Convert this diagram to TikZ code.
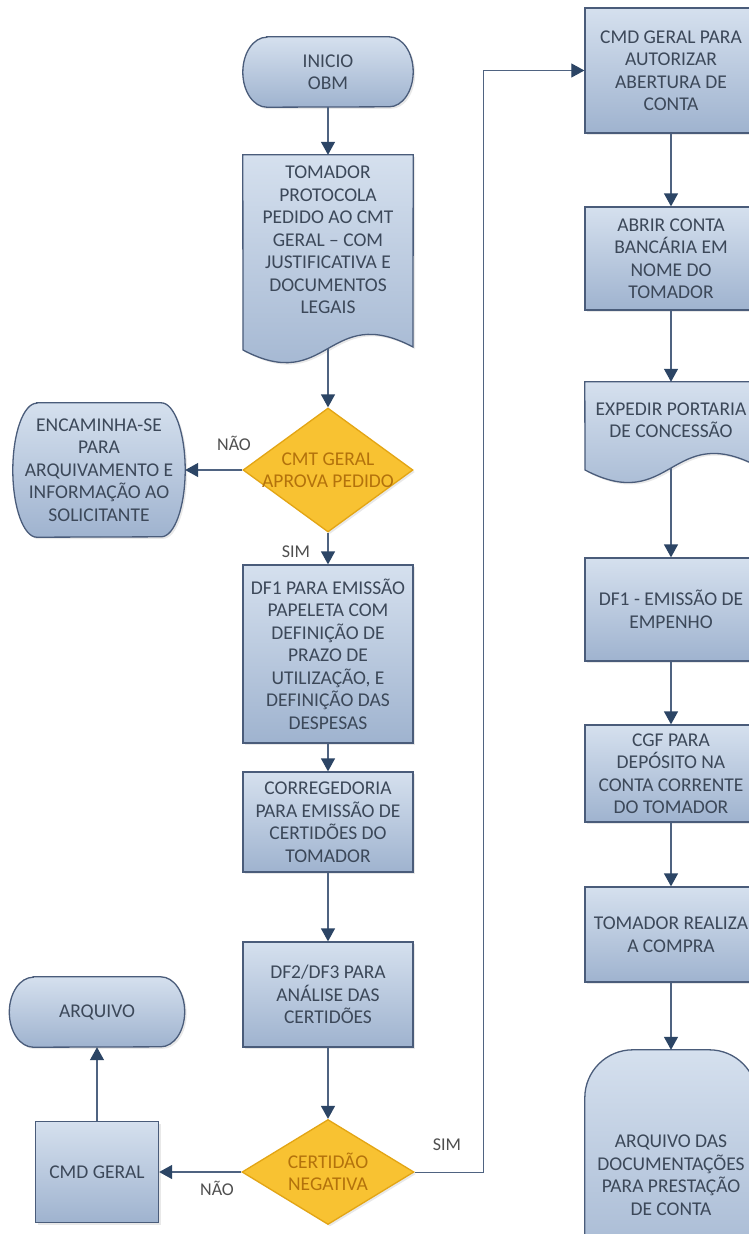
\documentclass[tikz,border=0pt]{standalone}
\usepackage{fontspec}
\setmainfont{Carlito}
\usetikzlibrary{arrows.meta,shapes.geometric,shadows,backgrounds}
\definecolor{boxtop}{HTML}{D5E0EE}
\definecolor{boxbot}{HTML}{9FB3CF}
\definecolor{boxline}{HTML}{4A5C7A}
\definecolor{txt}{HTML}{3C4859}
\definecolor{gold}{HTML}{F8C232}
\definecolor{goldline}{HTML}{E3A514}
\definecolor{goldtxt}{HTML}{B3720C}
\definecolor{conn}{HTML}{4F6381}
\definecolor{tipc}{HTML}{2C4565}
\definecolor{lbl}{HTML}{4F4F4F}
\tikzset{
  every node/.style={font=\fontsize{19.5}{22.5}\selectfont, text=txt, align=center},
  shapestyle/.style={draw=boxline, line width=1.3pt, top color=boxtop, bottom color=boxbot,
    drop shadow={opacity=0.18, shadow xshift=2pt, shadow yshift=-2pt}},
  procbox/.style={shapestyle, inner sep=0pt, minimum width=170pt},
  rbox/.style={procbox, minimum width=172pt},
  textonly/.style={inner sep=0pt},
  dia/.style={diamond, draw=goldline, line width=1.3pt, fill=gold, inner sep=0pt,
    drop shadow={opacity=0.18, shadow xshift=2pt, shadow yshift=-2pt}},
  diatext/.style={textonly, text=goldtxt},
  lab/.style={font=\fontsize{18}{20}\selectfont, text=lbl, inner sep=0pt},
  conn/.style={draw=conn, line width=1.3pt, -{Triangle[width=14pt,length=13pt,color=tipc]}},
}
\newcommand\drawterm[3]{%
  \path[shapestyle] ([xshift=#2]#1.north west) -- ([xshift=-#2]#1.north east)
    arc[start angle=90,end angle=-90,x radius=#2,y radius=#3]
    -- ([xshift=#2]#1.south west)
    arc[start angle=270,end angle=90,x radius=#2,y radius=#3] -- cycle;}
\begin{document}
\begin{tikzpicture}[x=1pt,y=1pt]
\useasboundingbox (0,0) rectangle (749,-1234);
\clip (0,0) rectangle (749,-1234);
% ---------- left column text holders ----------
\node[textonly, minimum width=170pt, minimum height=70pt] (inicio) at (328,-72) {INICIO\\OBM};
\node[textonly, minimum width=170pt, minimum height=170pt] (tom) at (328,-240)
  {TOMADOR\\PROTOCOLA\\PEDIDO AO CMT\\GERAL – COM\\JUSTIFICATIVA E\\DOCUMENTOS\\LEGAIS};
\coordinate (tomb) at (328,-348.5);
\node[dia, minimum width=170pt, minimum height=124pt] (dec1) at (328,-470) {};
\node[diatext] (dec1t) at (dec1.center) {CMT GERAL\\APROVA PEDIDO};
\node[textonly, minimum width=172pt, minimum height=134pt] (encam) at (99,-470)
  {ENCAMINHA-SE\\PARA\\ARQUIVAMENTO E\\INFORMAÇÃO AO\\SOLICITANTE};
\node[procbox, minimum height=178pt] (df1) at (328,-654)
  {DF1 PARA EMISSÃO\\PAPELETA COM\\DEFINIÇÃO DE\\PRAZO DE\\UTILIZAÇÃO, E\\DEFINIÇÃO DAS\\DESPESAS};
\node[procbox, minimum height=100pt] (correg) at (328,-822)
  {CORREGEDORIA\\PARA EMISSÃO DE\\CERTIDÕES DO\\TOMADOR};
\node[procbox, minimum height=105pt] (df2) at (328,-994.5)
  {DF2/DF3 PARA\\ANÁLISE DAS\\CERTIDÕES};
\node[dia, minimum width=172pt, minimum height=105pt] (dec2) at (328,-1172) {};
\node[diatext] (dec2t) at (dec2.center) {CERTIDÃO\\NEGATIVA};
\node[procbox, minimum width=123pt, minimum height=101pt] (cmd) at (97,-1172) {CMD GERAL};
\node[textonly, minimum width=175pt, minimum height=70pt] (arq) at (97,-1012) {ARQUIVO};
% ---------- right column ----------
\node[rbox, minimum height=125pt] (cmdp) at (671,-70.5) {CMD GERAL PARA\\AUTORIZAR\\ABERTURA DE\\CONTA};
\node[rbox, minimum height=103pt] (abrir) at (671,-258.5) {ABRIR CONTA\\BANCÁRIA EM\\NOME DO\\TOMADOR};
\node[textonly, minimum width=172pt, minimum height=76pt] (exp) at (671,-420) {EXPEDIR PORTARIA\\DE CONCESSÃO};
\coordinate (expb) at (671,-468);
\node[rbox, minimum height=103pt] (df1e) at (671,-609.5) {DF1 - EMISSÃO DE\\EMPENHO};
\node[rbox, minimum height=97pt] (cgf) at (671,-773.5) {CGF PARA\\DEPÓSITO NA\\CONTA CORRENTE\\DO TOMADOR};
\node[rbox, minimum height=95pt] (tomr) at (671,-934.5) {TOMADOR REALIZA\\A COMPRA};
\node[textonly, minimum width=172pt, minimum height=250pt] (arqd) at (671,-1175)
  {ARQUIVO DAS\\DOCUMENTAÇÕES\\PARA PRESTAÇÃO\\DE CONTA};
% ---------- background shapes ----------
\begin{scope}[on background layer]
  \clip (0,0) rectangle (749,-1234);
  \fill[white] (0,0) rectangle (749,-1234);
  \drawterm{inicio}{24pt}{35pt}
  \drawterm{encam}{24pt}{67pt}
  \drawterm{arq}{24pt}{35pt}
  \path[shapestyle, rounded corners=48pt] (arqd.north west) rectangle (arqd.south east);
  \path[shapestyle] (tom.north west) -- (tom.north east) -- (413,-347)
    .. controls (328,-302) and (328,-395) .. (243,-350) -- cycle;
  \path[shapestyle] (exp.north west) -- (exp.north east) -- (757,-466)
    .. controls (671,-421) and (671,-515) .. (585,-470) -- cycle;
\end{scope}
% ---------- connectors ----------
\draw[conn] (inicio.south) -- (tom.north);
\draw[conn] (tomb) -- (dec1.north);
\draw[conn] (dec1.west) -- (encam.east);
\draw[conn] (dec1.south) -- (df1.north);
\draw[conn] (df1.south) -- (correg.north);
\draw[conn] (correg.south) -- (df2.north);
\draw[conn] (df2.south) -- (dec2.north);
\draw[conn] (dec2.west) -- (cmd.east);
\draw[conn] (cmd.north) -- (arq.south);
\coordinate (c1) at (483,-1172);
\coordinate (c2) at (483,-70.5);
\draw[conn, line width=1pt] (dec2.east) -- (c1) -- (c2) -- (cmdp.west);
\draw[conn] (cmdp.south) -- (abrir.north);
\draw[conn] (abrir.south) -- (exp.north);
\draw[conn] (expb) -- (df1e.north);
\draw[conn] (df1e.south) -- (cgf.north);
\draw[conn] (cgf.south) -- (tomr.north);
\draw[conn] (tomr.south) -- (arqd.north);
% ---------- labels ----------
\node[lab] (l1) at (234,-443) {NÃO};
\node[lab] (l2) at (296,-552) {SIM};
\node[lab] (l3) at (447,-1145) {SIM};
\node[lab] (l4) at (217,-1188) {NÃO};
\end{tikzpicture}
\end{document}
